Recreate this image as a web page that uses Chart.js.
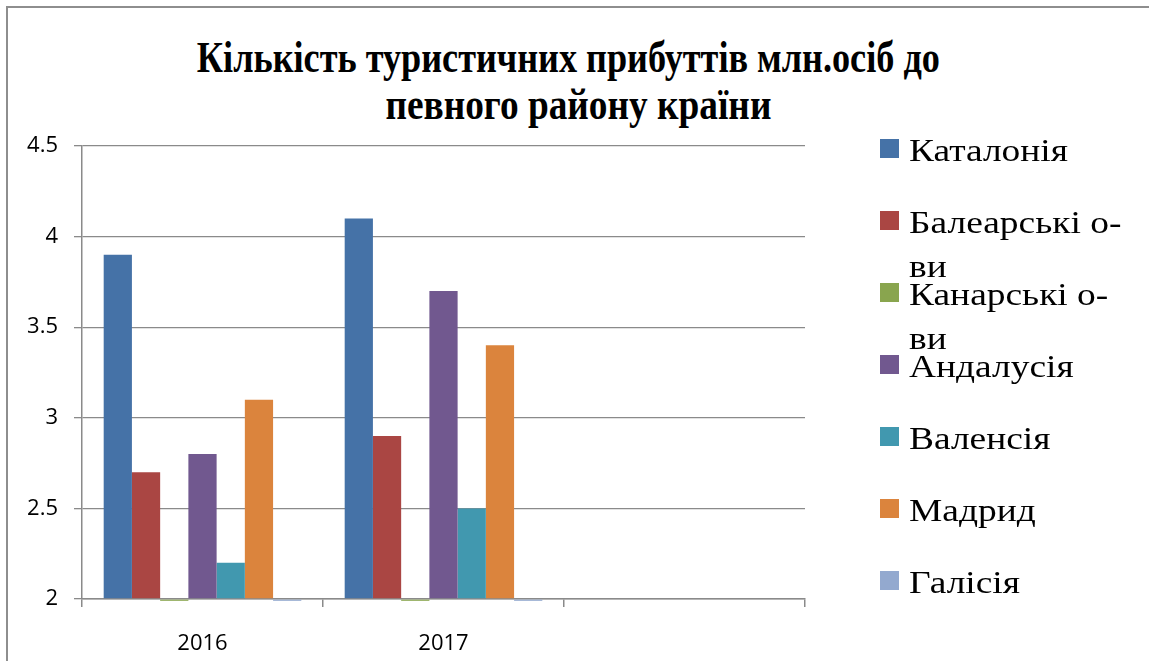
<!DOCTYPE html>
<html>
<head>
<meta charset="utf-8">
<script src="https://cdn.jsdelivr.net/npm/chart.js@4.4.1/dist/chart.umd.min.js"></script>
<style>
  body { margin: 0; background: #fff; }
  #wrap { position: relative; width: 1149px; height: 661px; overflow: hidden; }
  #frame { position: absolute; left: 6px; top: 6px; width: 1200px; height: 700px;
           border-left: 2px solid #8e8e8e; border-top: 2px solid #8e8e8e; }
  #title { position: absolute; left: 0; top: 34px; width: 1136px; text-align: center;
           font: bold 44px/47px "Liberation Serif", serif; color: #000; }
  #title span { display: inline-block; transform-origin: center; white-space: nowrap; }
  #legend { position: absolute; left: 880px; top: 128px; }
  .item { position: absolute; left: 0; width: 268px; }
  .box { position: absolute; left: 0; top: 11px; width: 19px; height: 19px; }
  .txt { position: absolute; left: 29px; width: 195px; font: 32px/44px "Liberation Serif", serif; color: #000;
         transform: scaleX(1.17); transform-origin: left top; }
  canvas { position: absolute; left: 0; top: 0; }
</style>
</head>
<body>
<div id="wrap">
  <div id="frame"></div>
  <div id="title"><span>Кількість туристичних прибуттів млн.осіб до</span><br><span>певного району країни</span></div>
  <canvas id="chart" width="1149" height="661"></canvas>
  <div id="legend"></div>
</div>
<script>
const years = ['2016', '2017', ''];
const regions = ['Каталонія', 'Балеарські о-ви', 'Канарські о-ви', 'Андалусія', 'Валенсія', 'Мадрид', 'Галісія'];
const catalonia = [3.9, 4.1];
const balearic = [2.7, 2.9];
const canary = [1.99, 1.99];
const andalusia = [2.8, 3.7];
const valencia = [2.2, 2.5];
const madrid = [3.1, 3.4];
const galicia = [1.99, 1.99];
const yTicks = [2, 2.5, 3, 3.5, 4, 4.5];
const colors = ['#4572A7', '#AA4643', '#89A54E', '#71588F', '#4198AF', '#DB843D', '#93A9CF'];

const series = [catalonia, balearic, canary, andalusia, valencia, madrid, galicia];

// squeeze the title lines to the narrow look of the original
const spans = document.querySelectorAll('#title span');
const titleFit = [[743, 0], [386, 10]];  // target width, shift of centre
spans.forEach((s, i) => {
  const k = titleFit[i][0] / s.getBoundingClientRect().width;
  s.style.transform = 'translateX(' + titleFit[i][1] + 'px) scaleX(' + k + ')';
});

const axisFont = { family: 'Open Sans', size: 22 };

const ctx = document.getElementById('chart').getContext('2d');
const chart = new Chart(ctx, {
  type: 'bar',
  data: {
    labels: years,
    datasets: series.map((d, i) => ({
      label: regions[i],
      data: d,
      base: 2,
      backgroundColor: colors[i],
      borderWidth: 0,
      clip: false
    }))
  },
  options: {
    responsive: false,
    animation: false,
    layout: { padding: { top: 146, right: 344, left: 0, bottom: 0 } },
    datasets: { bar: { categoryPercentage: 0.82, barPercentage: 1.0 } },
    plugins: {
      legend: { display: false },
      title: { display: false },
      tooltip: { enabled: false }
    },
    scales: {
      x: {
        offset: true,
        grid: { offset: true, drawOnChartArea: false, tickLength: 8, color: '#8a8a8a', lineWidth: 1.5 },
        border: { color: '#8a8a8a', width: 1.5 },
        ticks: { color: '#000', font: axisFont, padding: 24, maxRotation: 0 },
        afterFit: s => { s.height = 62; }
      },
      y: {
        min: 2,
        max: 4.5,
        afterBuildTicks: s => { s.ticks = yTicks.map(v => ({ value: v })); },
        grid: { color: '#8a8a8a', lineWidth: 1.3, tickLength: 8 },
        border: { color: '#8a8a8a', width: 1.5 },
        ticks: { color: '#000', font: axisFont, padding: 16, callback: v => String(v) },
        afterFit: s => { s.width = 82; }
      }
    }
  }
});

// legend built from the same series names and colours
const legend = document.getElementById('legend');
regions.forEach((name, i) => {
  const item = document.createElement('div');
  item.className = 'item';
  item.style.top = (i * 72) + 'px';
  item.innerHTML = '<div class="box" style="background:' + colors[i] + '"></div><div class="txt">' + name + '</div>';
  legend.appendChild(item);
});
</script>
</body>
</html>
